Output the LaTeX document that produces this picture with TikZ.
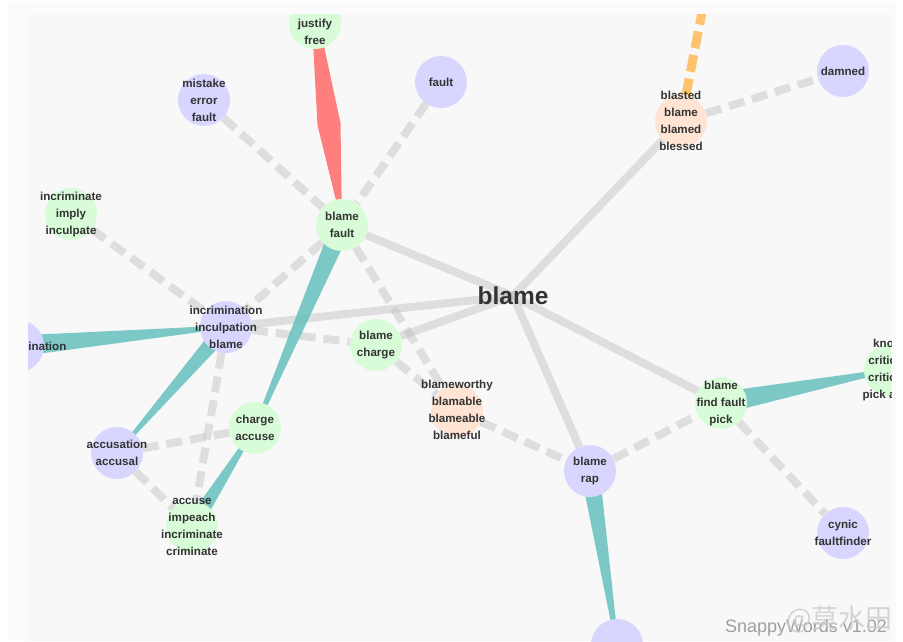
\documentclass[tikz,border=0pt]{standalone}
\usepackage{fontspec}
\setmainfont{Liberation Sans}
\newfontfamily\cjkfont{Noto Sans CJK SC}
\usetikzlibrary{calc}

\pgfdeclarelayer{back}
\pgfdeclarelayer{edges}
\pgfsetlayers{back,edges,main}

\definecolor{panel}{HTML}{FBFBFB}
\definecolor{canvas}{HTML}{F8F8F8}
\definecolor{synA}{HTML}{D8FCD8}
\definecolor{synB}{HTML}{D8D6FF}
\definecolor{synC}{HTML}{FFE4D4}
\definecolor{ink}{HTML}{333333}
\definecolor{linkgray}{HTML}{BCBCBC}
\definecolor{hypocol}{HTML}{5DBDBA}
\definecolor{antocol}{HTML}{FF7F7F}
\definecolor{derivcol}{HTML}{FFC36E}

\tikzset{
  syn/.style={circle, minimum size=52pt, inner sep=0pt, fill=#1},
  word/.style={align=center, inner sep=0pt, text=ink, font=\bfseries\fontsize{11.6}{17}\selectfont},
  link/.style={draw=linkgray, draw opacity=.42, line width=8pt},
  dlink/.style={link, dash pattern=on 16pt off 8pt},
  derv/.style={draw=derivcol, line width=9pt, dash pattern=on 17pt off 7pt},
  hypo/.style={fill=hypocol, fill opacity=.8},
}

% tapered link: from, to, half width at from, half width at to
\newcommand{\taperedge}[4]{%
  \fill[hypo] ($(#1)!#3!90:(#2)$) -- ($(#1)!#3!-90:(#2)$)
    -- ($(#2)!#4!90:(#1)$) -- ($(#2)!#4!-90:(#1)$) -- cycle;}

\begin{document}
\begin{tikzpicture}[x=1pt, y=-1pt]
\useasboundingbox (0,0) rectangle (903,641);

\begin{pgfonlayer}{back}
  \fill[white] (0,0) rectangle (903,641);
  \fill[panel] (8,2) rectangle (897,641);
  \fill[canvas] (28,14) rectangle (891,641);
\end{pgfonlayer}

\begin{scope}
  \clip (28,14) rectangle (891,641);

  % synsets
  \node[syn=synA] (jf) at (315,23) {};
  \node[syn=synB] (mef) at (204,100) {};
  \node[syn=synB] (flt) at (441,82) {};
  \node[syn=synA] (iii) at (71,214) {};
  \node[syn=synA] (bf) at (342,225) {};
  \node[syn=synB] (iib) at (226,327) {};
  \node[syn=synB] (selfinc) at (18,346) {};
  \node[syn=synA] (ca) at (255,428) {};
  \node[syn=synB] (aa) at (117,453) {};
  \node[syn=synA] (aiic) at (192,527) {};
  \node[syn=synA] (bc) at (376,345) {};
  \node[syn=synC] (bbbb) at (457,411) {};
  \node[syn=synB] (br) at (590,471) {};
  \node[syn=synB] (rbot) at (617,645) {};
  \node[syn=synA] (bffp) at (721,403) {};
  \node[syn=synA] (kcc) at (890,370) {};
  \node[syn=synC] (bbbb2) at (681,121) {};
  \node[syn=synB] (dmn) at (843,71) {};
  \node[syn=synB] (cf) at (843,533) {};
  \coordinate (up) at (713,-45);

  % words
  \node[word] (jf-t) at (315,32) {justify\\free};
  \node[word] (mef-t) at (mef) {mistake\\error\\fault};
  \node[word] (flt-t) at (flt) {fault};
  \node[word] (iii-t) at (iii) {incriminate\\imply\\inculpate};
  \node[word] (bf-t) at (bf) {blame\\fault};
  \node[word] (iib-t) at (iib) {incrimination\\inculpation\\blame};
  \node[word] (selfinc-t) at (selfinc) {self-incrimination};
  \node[word] (ca-t) at (ca) {charge\\accuse};
  \node[word] (aa-t) at (aa) {accusation\\accusal};
  \node[word] (aiic-t) at (aiic) {accuse\\impeach\\incriminate\\criminate};
  \node[word] (bc-t) at (bc) {blame\\charge};
  \node[word] (bbbb-t) at (457,410) {blameworthy\\blamable\\blameable\\blameful};
  \node[word] (br-t) at (br) {blame\\rap};
  \node[word] (bffp-t) at (bffp) {blame\\find fault\\pick};
  \node[word] (kcc-t) at (kcc) {knock\\criticize\\criticise\\pick apart};
  \node[word] (bbbb2-t) at (bbbb2) {blasted\\blame\\blamed\\blessed};
  \node[word] (dmn-t) at (dmn) {damned};
  \node[word] (cf-t) at (cf) {cynic\\faultfinder};

  % the word itself
  \node[text=ink, inner sep=0pt, font=\bfseries\fontsize{24.5}{28}\selectfont] (hub) at (513,296) {blame};
\end{scope}

\begin{pgfonlayer}{edges}
\begin{scope}
  \clip (28,14) rectangle (891,641);

  % senses of blame
  \draw[link] (hub.center) -- (bf);
  \draw[link] (hub.center) -- (iib);
  \draw[link] (hub.center) -- (bc);
  \draw[link] (hub.center) -- (br);
  \draw[link] (hub.center) -- (bffp);
  \draw[link] (hub.center) -- (bbbb2);

  % related
  \draw[dlink] (mef) -- (bf);
  \draw[dlink] (flt) -- (bf);
  \draw[dlink] (iii) -- (iib);
  \draw[dlink] (bf) -- (iib);
  \draw[dlink] (bf) -- (bbbb);
  \draw[dlink] (iib) -- (bc);
  \draw[dlink] (iib) -- (aiic);
  \draw[dlink] (aa) -- (ca);
  \draw[dlink] (aa) -- (aiic);
  \draw[dlink] (bc) -- (bbbb);
  \draw[dlink] (bbbb) -- (br);
  \draw[dlink] (br) -- (bffp);
  \draw[dlink] (bffp) -- (cf);
  \draw[dlink] (bbbb2) -- (dmn);
  \draw[derv] (bbbb2) -- (up);

  % kinds of
  \taperedge{bf}{ca}{10pt}{1.5pt}
  \taperedge{selfinc}{iib}{10.5pt}{1.5pt}
  \taperedge{iib}{aa}{8.5pt}{1pt}
  \taperedge{aiic}{ca}{8pt}{1.5pt}
  \taperedge{br}{rbot}{9.5pt}{1.5pt}
  \taperedge{bffp}{kcc}{11pt}{1.5pt}

  % opposite
  \fill[antocol] ($(jf)+(-3,0)$) -- ($(jf)+(4,0)$) -- ($(jf)!0.5!(bf)+(12,-1)$)
    -- (bf.center) -- ($(jf)!0.5!(bf)+(-11,1)$) -- cycle;
\end{scope}
\end{pgfonlayer}

% watermark
\node[anchor=base west, inner sep=0pt, text=gray!75, font=\fontsize{18}{20}\selectfont] (ver) at (725,632) {SnappyWords v1.02};
\node[anchor=base east, inner sep=0pt, text=gray!40, opacity=.8, font=\cjkfont\fontsize{27}{27}\selectfont] (wb) at (893,628) {@莫水田};
\end{tikzpicture}
\end{document}
